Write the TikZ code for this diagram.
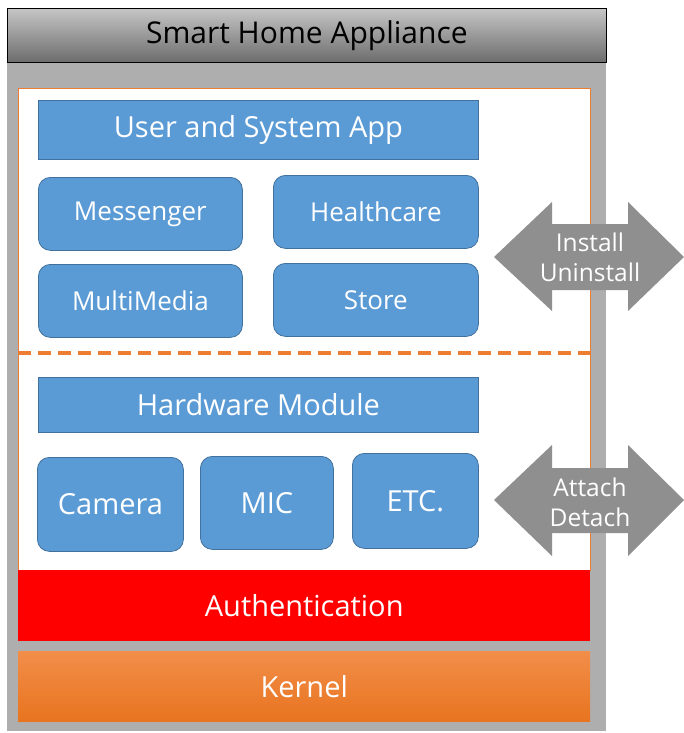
\documentclass[tikz,border=0pt]{standalone}
\usepackage{fontspec}
\setmainfont{Open Sans}
\usetikzlibrary{shadings}
\definecolor{boxblue}{HTML}{5B9BD5}
\definecolor{boxedge}{HTML}{41719C}
\definecolor{panelgray}{HTML}{A5A5A5}
\definecolor{arrowgray}{HTML}{8F8F8F}
\definecolor{orangeedge}{HTML}{ED7D31}
\definecolor{kerneltop}{HTML}{F28E4A}
\definecolor{kernelbot}{HTML}{E8741F}
\tikzset{
  layer/.style={draw=boxedge, line width=0.8pt, fill=boxblue, text=white, inner sep=0pt},
  roundbox/.style={layer, rounded corners=12pt},
  bigtxt/.style={font=\fontsize{29}{33}\selectfont},
  midtxt/.style={font=\fontsize{26}{30}\selectfont},
  arrtxt/.style={font=\fontsize{24.5}{30}\selectfont, text=white, align=center, inner sep=0pt},
  garrow/.style={fill=arrowgray, draw=none},
}
\begin{document}
\begin{tikzpicture}[x=1pt,y=-1pt]
\useasboundingbox (0,0) rectangle (684,733);
\fill[white] (0,0) rectangle (684,733);
% gray panel body
\fill[panelgray!90] (7,62) rectangle (606,731);
% title bar
\node[draw=black, line width=0.8pt, top color=gray!45, bottom color=gray!85!black, minimum width=599pt, minimum height=54pt, anchor=north west, inner sep=0pt, font=\fontsize{30}{34}\selectfont] (title) at (7,8) {Smart Home Appliance};
% white inner area
\node[draw=orangeedge, line width=1pt, fill=white, minimum width=572pt, minimum height=482pt, anchor=north west, inner sep=0pt] (inner) at (18,88) {};
% dashed separator
\coordinate (dl) at (18,353);
\coordinate (dr) at (590,353);
\draw[orangeedge, line width=3.5pt, dash pattern=on 13pt off 7pt] (dl) -- (dr);
% app layer
\node[layer, bigtxt, minimum width=440pt, minimum height=59pt, anchor=north west] (app) at (38,100) {User and System App};
\node[roundbox, midtxt, minimum width=204pt, minimum height=73pt, anchor=north west] (msg) at (38,177) {Messenger};
\node[roundbox, midtxt, minimum width=205pt, minimum height=73pt, anchor=north west] (health) at (273,175) {Healthcare};
\node[roundbox, midtxt, minimum width=204pt, minimum height=73pt, anchor=north west] (mm) at (38,264) {MultiMedia};
\node[roundbox, midtxt, minimum width=205pt, minimum height=73pt, anchor=north west] (store) at (273,263) {Store};
% hardware layer
\node[layer, bigtxt, minimum width=440pt, minimum height=55pt, anchor=north west] (hw) at (38,377) {Hardware Module};
\node[roundbox, bigtxt, minimum width=146pt, minimum height=94pt, anchor=north west] (cam) at (37,457) {Camera};
\node[roundbox, bigtxt, minimum width=133pt, minimum height=93pt, anchor=north west] (mic) at (200,456) {MIC};
\node[roundbox, bigtxt, minimum width=126pt, minimum height=95pt, anchor=north west] (etc) at (352,453) {ETC.};
% authentication
\node[fill=red, text=white, bigtxt, minimum width=572pt, minimum height=71pt, anchor=north west, inner sep=0pt] (auth) at (18,570) {Authentication};
% kernel
\node[top color=kerneltop, bottom color=kernelbot, text=white, bigtxt, minimum width=572pt, minimum height=70pt, anchor=north west, inner sep=0pt] (kernel) at (18,651) {Kernel};
% arrows
\fill[garrow] (494,257) -- (552,202) -- (552,224) -- (628,224) -- (628,202) -- (684,257) -- (628,311) -- (628,290) -- (552,290) -- (552,311) -- cycle;
\node[arrtxt] (inst) at (590,257) {Install\\Uninstall};
\fill[garrow] (494,500) -- (552,445) -- (552,468) -- (628,468) -- (628,445) -- (684,500) -- (628,556) -- (628,533) -- (552,533) -- (552,556) -- cycle;
\node[arrtxt] (att) at (590,502) {Attach\\Detach};
\end{tikzpicture}
\end{document}
